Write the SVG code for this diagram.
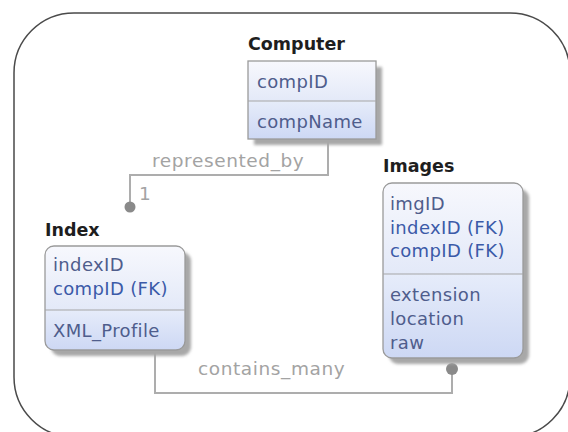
<svg xmlns="http://www.w3.org/2000/svg" width="568" height="432" viewBox="0 0 568 432">
<style>
.title{font-family:"DejaVu Sans",sans-serif;font-weight:bold;font-size:17.5px;fill:#1e1e1e}
.attr{font-family:"DejaVu Sans",sans-serif;font-size:18px;letter-spacing:0.35px;fill:#4f5d8c}
.fk{fill:#3b5aa8}
.lbl{font-family:"DejaVu Sans",sans-serif;font-size:18.5px;letter-spacing:0.6px;fill:#a3a3a3}
.box{stroke:#9a9a9a;stroke-width:1.3}
.div{stroke:#a5a5a5;stroke-width:1.2}
.shadow{fill:#a8a8a8;filter:url(#blur)}
.conn{fill:none;stroke:#adadad;stroke-width:2}
.dot{fill:#8a8a8a}
</style>
<defs>
<linearGradient id="g1" x1="0" y1="0" x2="0" y2="1">
<stop offset="0" stop-color="#f7f8fd"/>
<stop offset="1" stop-color="#e3e9f8"/>
</linearGradient>
<linearGradient id="g2" x1="0" y1="0" x2="0" y2="1">
<stop offset="0" stop-color="#e6ecfa"/>
<stop offset="1" stop-color="#cdd8f4"/>
</linearGradient>
<filter id="blur" x="-10%" y="-10%" width="130%" height="130%">
<feGaussianBlur stdDeviation="1.5"/>
</filter>
<clipPath id="cIndex"><rect x="45" y="246" width="140" height="104" rx="9"/></clipPath>
<clipPath id="cImages"><rect x="383" y="183" width="140" height="175" rx="9"/></clipPath>
</defs>
<rect width="568" height="432" fill="#ffffff"/>
<rect x="14" y="13" width="556" height="424" rx="60" fill="none" stroke="#4a4a4a" stroke-width="1.5"/>

<g id="connectors">
<path class="conn" d="M328,139 V175 H130 V205"/>
<circle class="dot" cx="130" cy="207" r="5.5"/>
<text class="lbl" x="152" y="167">represented_by</text>
<text class="lbl" x="139" y="200">1</text>
<path class="conn" d="M155,350 V393 H452 V370"/>
<circle class="dot" cx="452" cy="369" r="6"/>
<text class="lbl" x="198" y="375">contains_many</text>
</g>

<g id="Computer">
<text class="title" x="248" y="50">Computer</text>
<rect class="shadow" x="254" y="67" width="128" height="78"/>
<rect x="248" y="61" width="128" height="40" fill="url(#g1)"/>
<rect x="248" y="101" width="128" height="38" fill="url(#g2)"/>
<rect class="box" x="248" y="61" width="128" height="78" fill="none"/>
<line class="div" x1="248" y1="101" x2="376" y2="101"/>
<text class="attr" x="257" y="88">compID</text>
<text class="attr" x="257" y="128">compName</text>
</g>

<g id="Index">
<text class="title" x="45" y="236">Index</text>
<rect class="shadow" x="51" y="252" width="140" height="104" rx="9"/>
<g clip-path="url(#cIndex)">
<rect x="45" y="246" width="140" height="64" fill="url(#g1)"/>
<rect x="45" y="310" width="140" height="40" fill="url(#g2)"/>
</g>
<rect class="box" x="45" y="246" width="140" height="104" rx="9" fill="none"/>
<line class="div" x1="45" y1="310" x2="185" y2="310"/>
<text class="attr" x="53" y="271">indexID</text>
<text class="attr fk" x="53" y="295">compID (FK)</text>
<text class="attr" x="53" y="337">XML_Profile</text>
</g>

<g id="Images">
<text class="title" x="383" y="172">Images</text>
<rect class="shadow" x="389" y="189" width="140" height="175" rx="9"/>
<g clip-path="url(#cImages)">
<rect x="383" y="183" width="140" height="91" fill="url(#g1)"/>
<rect x="383" y="274" width="140" height="84" fill="url(#g2)"/>
</g>
<rect class="box" x="383" y="183" width="140" height="175" rx="9" fill="none"/>
<line class="div" x1="383" y1="274" x2="523" y2="274"/>
<text class="attr" x="390" y="210">imgID</text>
<text class="attr fk" x="390" y="234">indexID (FK)</text>
<text class="attr fk" x="390" y="257">compID (FK)</text>
<text class="attr" x="390" y="301">extension</text>
<text class="attr" x="390" y="325">location</text>
<text class="attr" x="390" y="349">raw</text>
</g>
</svg>
